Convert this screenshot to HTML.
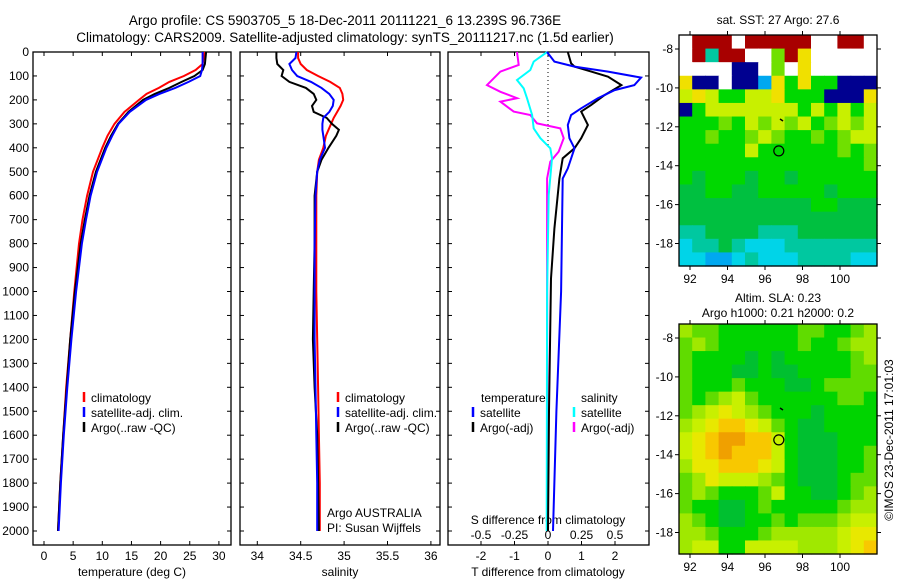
<!DOCTYPE html>
<html><head><meta charset="utf-8"><style>
body{margin:0;background:#fff;}
svg{display:block;font-family:"Liberation Sans",sans-serif;}
</style></head><body>
<svg id="fig" width="900" height="580" viewBox="0 0 900 580">
<text x="345" y="25" font-size="13.5" text-anchor="middle">Argo profile: CS 5903705_5 18-Dec-2011 20111221_6 13.239S 96.736E</text>
<text x="345" y="42" font-size="13.5" text-anchor="middle">Climatology: CARS2009. Satellite-adjusted climatology: synTS_20111217.nc (1.5d earlier)</text>
<g id="p1"></g>
<g id="p2"></g>
<g id="p3"></g>
<g id="m1"></g>
<g id="m2"></g>
<text x="778" y="24" font-size="12" text-anchor="middle">sat. SST: 27 Argo: 27.6</text>
<text x="778" y="302" font-size="12" text-anchor="middle">Altim. SLA: 0.23</text>
<text x="778" y="317" font-size="12" text-anchor="middle">Argo h1000: 0.21 h2000: 0.2</text>
<text transform="translate(893,440) rotate(-90)" font-size="12" text-anchor="middle">©IMOS 23-Dec-2011 17:01:03</text>
</svg>
<script>
// ---------- data ----------
const depthT = [0,50,75,100,125,150,175,200,250,300,350,400,500,600,700,800,1000,1200,1400,1600,1800,2000];
const tempClim = [27.6,27.2,26.0,24.0,21.5,19.7,17.6,16.3,13.8,12.1,10.9,10.0,8.4,7.4,6.6,6.0,5.2,4.5,3.8,3.3,2.8,2.4];
const tempSat  = [27.2,27.2,27.1,26.8,24.8,22.5,19.8,17.5,14.7,12.8,11.7,10.7,9.1,8.0,7.2,6.5,5.5,4.7,4.0,3.4,2.9,2.5];
const tempArgo = [27.8,27.6,27.2,25.8,23.6,21.5,19.0,17.0,14.5,12.7,11.5,10.5,8.9,7.8,7.0,6.3,5.3,4.5,3.9,3.3,2.8,2.4];
const depthS = [0,25,50,75,100,125,150,175,200,225,250,275,300,325,350,400,450,500,600,800,1000,1200,1400,1600,1800,2000];
const salClim = [34.47,34.47,34.50,34.57,34.70,34.84,34.95,34.98,34.99,34.96,34.92,34.88,34.85,34.82,34.79,34.76,34.71,34.69,34.68,34.68,34.68,34.69,34.70,34.71,34.72,34.72];
const salSat  = [34.45,34.44,34.37,34.40,34.46,34.62,34.74,34.83,34.88,34.87,34.83,34.76,34.75,34.75,34.76,34.78,34.72,34.69,34.67,34.66,34.66,34.66,34.67,34.68,34.69,34.69];
const salArgo = [34.22,34.22,34.23,34.30,34.28,34.37,34.56,34.65,34.68,34.63,34.65,34.80,34.86,34.94,34.91,34.82,34.74,34.69,34.66,34.66,34.65,34.64,34.66,34.69,34.70,34.71];
const dTsatDepth = [0,40,61,82,107,138,159,193,235,263,305,360,402,486,528,1000,1500,2000];
const dTsat      = [-0.03,0.19,0.79,1.79,2.78,2.58,1.99,1.49,0.99,0.69,0.59,0.64,0.79,0.59,0.44,0.39,0.25,0.15];
const dTargoDepth = [0,47,61,82,103,138,180,221,249,305,360,402,444,528,737,946,1500,2000];
const dTargo      = [0.59,0.69,0.79,1.29,1.79,2.19,1.69,1.29,0.99,1.19,0.99,0.79,0.44,0.34,0.19,0.09,0.03,0.0];
const dSsatDepth = [0,40,75,117,152,193,263,319,360,402,444,597,1000,2000];
const dSsat      = [-0.007,-0.107,-0.132,-0.231,-0.181,-0.157,-0.119,-0.107,-0.057,0.017,0.030,0.005,-0.007,-0.01];
const dSargoDepth = [0,54,82,138,166,193,207,249,263,298,319,360,416,458,528,807,2000];
const dSargo      = [-0.231,-0.219,-0.355,-0.455,-0.355,-0.231,-0.355,-0.256,-0.132,-0.082,0.092,0.117,0.080,0.017,-0.007,-0.007,-0.005];
const depthTicks = [0,100,200,300,400,500,600,700,800,900,1000,1100,1200,1300,1400,1500,1600,1700,1800,1900,2000];
const tempTicks = [0,5,10,15,20,25,30];
const salTicks = ["34","34.5","35","35.5","36"];
const tdTicks = [-2,-1,0,1,2];
const sdTicks = ["-0.5","-0.25","0","0.25","0.5"];
const lonTicks = [92,94,96,98,100];
const latTicks = [-8,-10,-12,-14,-16,-18];
const sstGrid = [
"WRRRWRRRRRWWRRW","WRTRRWWgRYWWWWW","WWWWNNWgWYWWWWW","YNNWNNBYGYGGNNN","LYLGGLLYGGGNNNY",
"NGLLLLLLLGLGLGL","GGGgGLgLgLGgLgL","GGgGGgLgGGgGgLL","GGGGGLGGGGGGgGg","GGGGGGGGGGGGGGg",
"GDGGGDGGDGGGGGG","DDGGDDGGGGGDGGG","DDDDDDDDDDGGDDD","DDDDDDDDDDDDDDD","TTDDDDTTTDDDDDD",
"CTTDTCCCTTTTTTT","CCBBCTCCCTTTTCC"];
const slaGrid = [
"lggGGGGGGggGGgl","glgGGGGGGgGGgll","gGGGGDGDGGGGGgl","gGGGDDGDDGGGGgg","gGGGgGGGDDGgggg",
"gGglLgGGGGGGggG","glLYLlgGGGDGGGG","lLYyyYLgGDDGGGG","LYyOOyyLGDDDGGG","LYyOyyyLGDDDGGg",
"lYYyyyYLGDDDGGg","glYLLLlgGDDDGgg","glgGGGgLGGDDGgl","gGGDDGgGGGGGgll","lgGDDGGgGggglLL",
"llgGGGglllllLYY","lLLGGLLLLlllLYy"];
const argoLon = 96.736, argoLat = -13.239;

// ---------- helpers ----------
const NS="http://www.w3.org/2000/svg";
function mk(parent,tag,attrs,txt){const e=document.createElementNS(NS,tag);for(const k in attrs)e.setAttribute(k,attrs[k]);if(txt!==undefined)e.textContent=txt;parent.appendChild(e);return e;}
const Y0=52, Y1=545;
const yD = d => 52 + d*0.2395;
function frame(g,x0,x1,name){
  const r=mk(g,'rect',{x:x0,y:Y0,width:x1-x0,height:Y1-Y0,fill:'none',stroke:'#000','stroke-width':1.3});
  
  
  depthTicks.forEach(d=>{const y=yD(d);
    mk(g,'line',{x1:x0,x2:x0+4,y1:y,y2:y,stroke:'#000'});
    mk(g,'line',{x1:x1-4,x2:x1,y1:y,y2:y,stroke:'#000'});});
}
function curve(g,xs,ds,xf,color,name,w){
  const pts=xs.map((v,i)=>xf(v).toFixed(1)+','+yD(ds[i]).toFixed(1)).join(' ');
  const p=mk(g,'polyline',{points:pts,fill:'none',stroke:color,'stroke-width':w||2});
  
  
}
function legend(g,x,y,items){
  items.forEach((it,i)=>{
    mk(g,'line',{x1:x,x2:x,y1:y+i*15-10,y2:y+i*15,stroke:it[1],'stroke-width':2.5});
    const t=mk(g,'text',{x:x+7,y:y+i*15,'font-size':12},it[0]);
    
    
  });
}

// ---------- panel 1 ----------
const p1=document.getElementById('p1');
const xT = t => 44 + t*5.83;
frame(p1,33,231,'temperature-panel');
depthTicks.forEach(d=>{const t=mk(p1,'text',{x:29,y:yD(d)+4,'font-size':12,'text-anchor':'end'},d);
  
  });
tempTicks.forEach(v=>{const x=xT(v);mk(p1,'line',{x1:x,x2:x,y1:Y0,y2:Y0+4,stroke:'#000'});mk(p1,'line',{x1:x,x2:x,y1:Y1-4,y2:Y1,stroke:'#000'});
  const t=mk(p1,'text',{x:x,y:560,'font-size':12,'text-anchor':'middle'},v);
  
  });
mk(p1,'text',{x:132,y:576,'font-size':12,'text-anchor':'middle',},'temperature (deg C)');
curve(p1,tempClim,depthT,xT,'#ff0000','temp-climatology-line');
curve(p1,tempArgo,depthT,xT,'#000000','temp-argo-line');
curve(p1,tempSat,depthT,xT,'#0000ff','temp-satellite-line');
legend(p1,84,402,[['climatology','#f00'],['satellite-adj. clim.','#00f'],['Argo(..raw -QC)','#000']]);

// ---------- panel 2 ----------
const p2=document.getElementById('p2');
const xS = s => 257.3 + (s-34)*86.8;
frame(p2,240,440,'salinity-panel');
salTicks.forEach(v=>{const x=xS(+v);mk(p2,'line',{x1:x,x2:x,y1:Y0,y2:Y0+4,stroke:'#000'});mk(p2,'line',{x1:x,x2:x,y1:Y1-4,y2:Y1,stroke:'#000'});
  const t=mk(p2,'text',{x:x,y:560,'font-size':12,'text-anchor':'middle'},v);
  
  });
mk(p2,'text',{x:340,y:576,'font-size':12,'text-anchor':'middle',},'salinity');
curve(p2,salClim,depthS,xS,'#ff0000','sal-climatology-line');
curve(p2,salArgo,depthS,xS,'#000000','sal-argo-line');
curve(p2,salSat,depthS,xS,'#0000ff','sal-satellite-line');
legend(p2,338,402,[['climatology','#f00'],['satellite-adj. clim.','#00f'],['Argo(..raw -QC)','#000']]);
mk(p2,'text',{x:327,y:517,'font-size':12,},'Argo AUSTRALIA');
mk(p2,'text',{x:327,y:532,'font-size':12,},'PI: Susan Wijffels');

// ---------- panel 3 ----------
const p3=document.getElementById('p3');
const xTd = t => 548 + t*33.5;
const xSd = s => 548 + s*134;
frame(p3,448,649,'difference-panel');
mk(p3,'line',{x1:548,x2:548,y1:Y0,y2:yD(400),stroke:'#000','stroke-dasharray':'1,3',});
tdTicks.forEach(v=>{const x=xTd(v);mk(p3,'line',{x1:x,x2:x,y1:Y0,y2:Y0+4,stroke:'#000'});mk(p3,'line',{x1:x,x2:x,y1:Y1-4,y2:Y1,stroke:'#000'});
  const t=mk(p3,'text',{x:x,y:560,'font-size':12,'text-anchor':'middle'},v);
  
  });
sdTicks.forEach(v=>{const x=xSd(+v);
  const t=mk(p3,'text',{x:x,y:539,'font-size':12,'text-anchor':'middle'},v);
  
  });
mk(p3,'text',{x:548,y:524,'font-size':12,'text-anchor':'middle',},'S difference from climatology');
mk(p3,'text',{x:548,y:576,'font-size':12,'text-anchor':'middle',},'T difference from climatology');
curve(p3,dSargo,dSargoDepth,xSd,'#ff00ff','s-diff-argo-line');
curve(p3,dSsat,dSsatDepth,xSd,'#00ffff','s-diff-satellite-line');
curve(p3,dTargo,dTargoDepth,xTd,'#000000','t-diff-argo-line');
curve(p3,dTsat,dTsatDepth,xTd,'#0000ff','t-diff-satellite-line');
mk(p3,'text',{x:481,y:402,'font-size':12,},'temperature');
mk(p3,'text',{x:581,y:402,'font-size':12,},'salinity');
legend(p3,473,417,[['satellite','#00f'],['Argo(-adj)','#000']]);
legend(p3,574,417,[['satellite','#0ff'],['Argo(-adj)','#f0f']]);

// ---------- maps ----------
const pal1={W:'#ffffff',R:'#a80000',N:'#000090',Y:'#f0e000',L:'#c8f000',G:'#00d800',g:'#70e000',D:'#00c040',T:'#00c8a0',C:'#00d4e8',B:'#00a8f0',O:'#f0a000',y:'#f8c800'};
const pal2={L:'#c8f000',l:'#a0e800',G:'#00d400',g:'#60dc00',D:'#00c030',Y:'#e8e800',O:'#f0a000',y:'#f8c800'};
function drawMap(id,grid,pal,top,bottom,lat8y,name){
  const g=document.getElementById(id);
  const x0=679,x1=877;
  const rows=grid.length, cols=grid[0].length;
  const cw=(x1-x0)/cols, ch=(bottom-top)/rows;
  grid.forEach((row,r)=>{[...row].forEach((c,k)=>{
    const cell=mk(g,'rect',{x:(x0+k*cw).toFixed(2),y:(top+r*ch).toFixed(2),width:(cw+0.6).toFixed(2),height:(ch+0.6).toFixed(2),fill:pal[c]});
    
    
  });});
  const fr=mk(g,'rect',{x:x0,y:top,width:x1-x0,height:bottom-top,fill:'none',stroke:'#000','stroke-width':1.3});
  
  
  const lonX = lo => 690 + (lo-92)*18.75;
  const latY = la => lat8y + (-8-la)*19.45;
  lonTicks.forEach(lo=>{const x=lonX(lo);
    mk(g,'line',{x1:x,x2:x,y1:top-4,y2:top,stroke:'#000'});mk(g,'line',{x1:x,x2:x,y1:bottom,y2:bottom+4,stroke:'#000'});
    const t=mk(g,'text',{x:x,y:bottom+17,'font-size':12,'text-anchor':'middle'},lo);
    
    });
  latTicks.forEach(la=>{const y=latY(la);
    mk(g,'line',{x1:x0-4,x2:x0,y1:y,y2:y,stroke:'#000'});mk(g,'line',{x1:x1,x2:x1+4,y1:y,y2:y,stroke:'#000'});
    const t=mk(g,'text',{x:x0-6,y:y+4,'font-size':12,'text-anchor':'end'},la);
    
    });
  const c=mk(g,'circle',{cx:lonX(argoLon),cy:latY(argoLat),r:5,fill:'none',stroke:'#000','stroke-width':1.2});
  
  
  mk(g,'path',{d:`M${lonX(96.8)} ${latY(-11.6)} l3 2`,stroke:'#000','stroke-width':1.5});
}
drawMap('m1',sstGrid,pal1,35,266,49,'sst-map');
drawMap('m2',slaGrid,pal2,324,554,338,'sla-map');
</script>
</body></html>
